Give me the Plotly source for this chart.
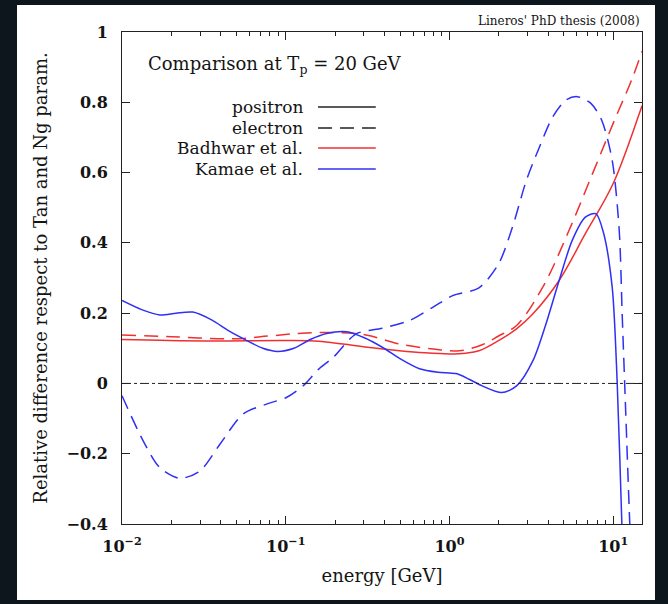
import plotly.graph_objects as go

# ---------------- data ----------------
kamae_pos_E = [0.01, 0.01318, 0.01706, 0.02138, 0.02710, 0.03548, 0.04467, 0.05781,
               0.07244, 0.08913, 0.1122, 0.1413, 0.1778, 0.2344, 0.3020, 0.3890,
               0.5012, 0.6561, 0.8511, 1.096, 1.318, 1.585, 2.089, 2.570, 3.236,
               3.890, 4.677, 5.623, 6.761, 7.834, 8.710, 9.863, 10.57, 11.30, 12.02]
kamae_pos_v = [0.236, 0.21, 0.195, 0.2, 0.203, 0.18, 0.15, 0.122,
               0.10, 0.091, 0.10, 0.125, 0.142, 0.147, 0.13, 0.103,
               0.07, 0.042, 0.032, 0.028, 0.012, -0.007, -0.026, -0.007, 0.065,
               0.17, 0.293, 0.407, 0.473, 0.483, 0.43, 0.274, 0.008, -0.4, -0.8]

kamae_ele_E = [0.01, 0.01349, 0.01706, 0.02259, 0.02992, 0.03963, 0.05495, 0.07621,
               0.1009, 0.1276, 0.1585, 0.1950, 0.2692, 0.3890, 0.5702, 0.7943,
               1.047, 1.514, 1.995, 2.427, 2.951, 3.548, 4.266, 5.129, 6.026,
               7.311, 8.511, 9.863, 10.89, 11.35, 11.94, 12.59, 13.18]
kamae_ele_v = [-0.035, -0.164, -0.24, -0.27, -0.249, -0.173, -0.087, -0.059,
               -0.04, -0.007, 0.04, 0.074, 0.141, 0.157, 0.179, 0.217,
               0.25, 0.272, 0.34, 0.445, 0.578, 0.673, 0.758, 0.806, 0.816,
               0.797, 0.749, 0.635, 0.435, 0.198, -0.087, -0.382, -0.6]

badhwar_pos_E = [0.01, 0.03162, 0.1, 0.1585, 0.2239, 0.3162, 0.4955, 0.7079,
                 1.0, 1.259, 1.514, 1.995, 2.570, 3.236, 4.677, 6.761, 10.0, 14.45, 15.0]
badhwar_pos_v = [0.125, 0.121, 0.122, 0.12, 0.112, 0.103, 0.093, 0.087,
                 0.084, 0.086, 0.093, 0.122, 0.155, 0.198, 0.293, 0.426, 0.569, 0.768, 0.79]

badhwar_ele_E = [0.01, 0.01995, 0.04786, 0.07943, 0.1259, 0.1950, 0.3090, 0.4955,
                 0.7943, 1.148, 1.585, 1.995, 2.570, 3.715, 5.370, 7.482, 10.0, 13.18, 15.0]
badhwar_ele_v = [0.138, 0.133, 0.127, 0.135, 0.143, 0.145, 0.138, 0.112,
                 0.098, 0.093, 0.11, 0.135, 0.165, 0.274, 0.435, 0.597, 0.74, 0.872, 0.945]

x_tickvals = [0.01, 0.1, 1, 10]
x_ticktext = ["10<sup>−2</sup>", "10<sup>−1</sup>", "10<sup>0</sup>", "10<sup>1</sup>"]
x_minor = [m * d for d in (0.01, 0.1, 1) for m in range(2, 10)]
y_tickvals = [-0.4, -0.2, 0, 0.2, 0.4, 0.6, 0.8, 1]
y_ticktext = ["−0.4", "−0.2", "0", "0.2", "0.4", "0.6", "0.8", "1"]

legend_labels = ["positron", "electron", "Badhwar et al.", "Kamae et al."]

RED = "#f03030"
BLUE = "#2f2ff5"
DASH = "14px,8px"
FONT = "DejaVu Serif"
TXT = "#141414"

fig = go.Figure()
fig.add_trace(go.Scatter(x=badhwar_pos_E, y=badhwar_pos_v, mode="lines",
                         line=dict(color=RED, width=1.5, shape="spline"), hoverinfo="skip"))
fig.add_trace(go.Scatter(x=badhwar_ele_E, y=badhwar_ele_v, mode="lines",
                         line=dict(color=RED, width=1.5, dash=DASH, shape="spline"), hoverinfo="skip"))
fig.add_trace(go.Scatter(x=kamae_pos_E, y=kamae_pos_v, mode="lines",
                         line=dict(color=BLUE, width=1.5, shape="spline", smoothing=0.8), hoverinfo="skip"))
fig.add_trace(go.Scatter(x=kamae_ele_E, y=kamae_ele_v, mode="lines",
                         line=dict(color=BLUE, width=1.5, dash=DASH, shape="spline", smoothing=0.8), hoverinfo="skip"))

shapes = []
# white panel on dark background
shapes.append(dict(type="rect", xref="paper", yref="paper", x0=-0.2019, x1=1.025,
                   y0=-0.1545, y1=1.0549, fillcolor="white", line=dict(width=0), layer="below"))
# zero reference line
shapes.append(dict(type="line", xref="paper", yref="y", x0=0, x1=1, y0=0, y1=0,
                   line=dict(color="#222", width=1, dash="dashdot")))
# legend samples
leg_y = [0.8476, 0.8049, 0.7642, 0.7215]
leg_styles = [("#222", "solid"), ("#222", DASH), (RED, "solid"), (BLUE, "solid")]
annotations = []
for lab, yy, (c, d) in zip(legend_labels, leg_y, leg_styles):
    shapes.append(dict(type="line", xref="paper", yref="paper", x0=0.377, x1=0.488,
                       y0=yy, y1=yy, line=dict(color=c, width=1.5, dash=d)))
    annotations.append(dict(xref="paper", yref="paper", x=0.352, y=yy, text=lab,
                            showarrow=False, xanchor="right", yanchor="middle",
                            font=dict(family=FONT, size=17, color=TXT)))

annotations.append(dict(xref="paper", yref="paper", x=0.046, y=0.933,
                        text="Comparison at T<sub>p</sub> = 20 GeV", showarrow=False,
                        xanchor="left", yanchor="middle",
                        font=dict(family=FONT, size=18, color=TXT)))
annotations.append(dict(xref="paper", yref="paper", x=1.0, y=1.0224,
                        text="Lineros' PhD thesis (2008)", showarrow=False,
                        xanchor="right", yanchor="middle",
                        font=dict(family=FONT, size=12, color=TXT)))

axis_common = dict(showline=True, linecolor="#222", linewidth=1, mirror="allticks",
                   ticks="inside", ticklen=8, tickcolor="#222", showgrid=False, zeroline=False,
                   tickfont=dict(family=FONT, size=16, color=TXT, weight="bold"))

fig.update_layout(
    width=668, height=604,
    margin=dict(l=122, r=26, t=32, b=80, pad=0),
    paper_bgcolor="#0c161c", plot_bgcolor="white",
    showlegend=False,
    shapes=shapes, annotations=annotations,
    xaxis=dict(type="log", range=[-2, 1.1761], tickvals=x_tickvals, ticktext=x_ticktext,
               ticklabelstandoff=8,
               minor=dict(tickvals=x_minor, ticks="inside", ticklen=4, tickcolor="#222"),
               title=dict(text="energy [GeV]", font=dict(family=FONT, size=18, color=TXT), standoff=14),
               **axis_common),
    yaxis=dict(range=[-0.4, 1], tickvals=y_tickvals, ticktext=y_ticktext,
               ticklabelstandoff=10,
               title=dict(text="Relative difference respect to Tan and Ng param.",
                          font=dict(family=FONT, size=18, color=TXT), standoff=14),
               **axis_common),
)

fig.write_html("out.html")
